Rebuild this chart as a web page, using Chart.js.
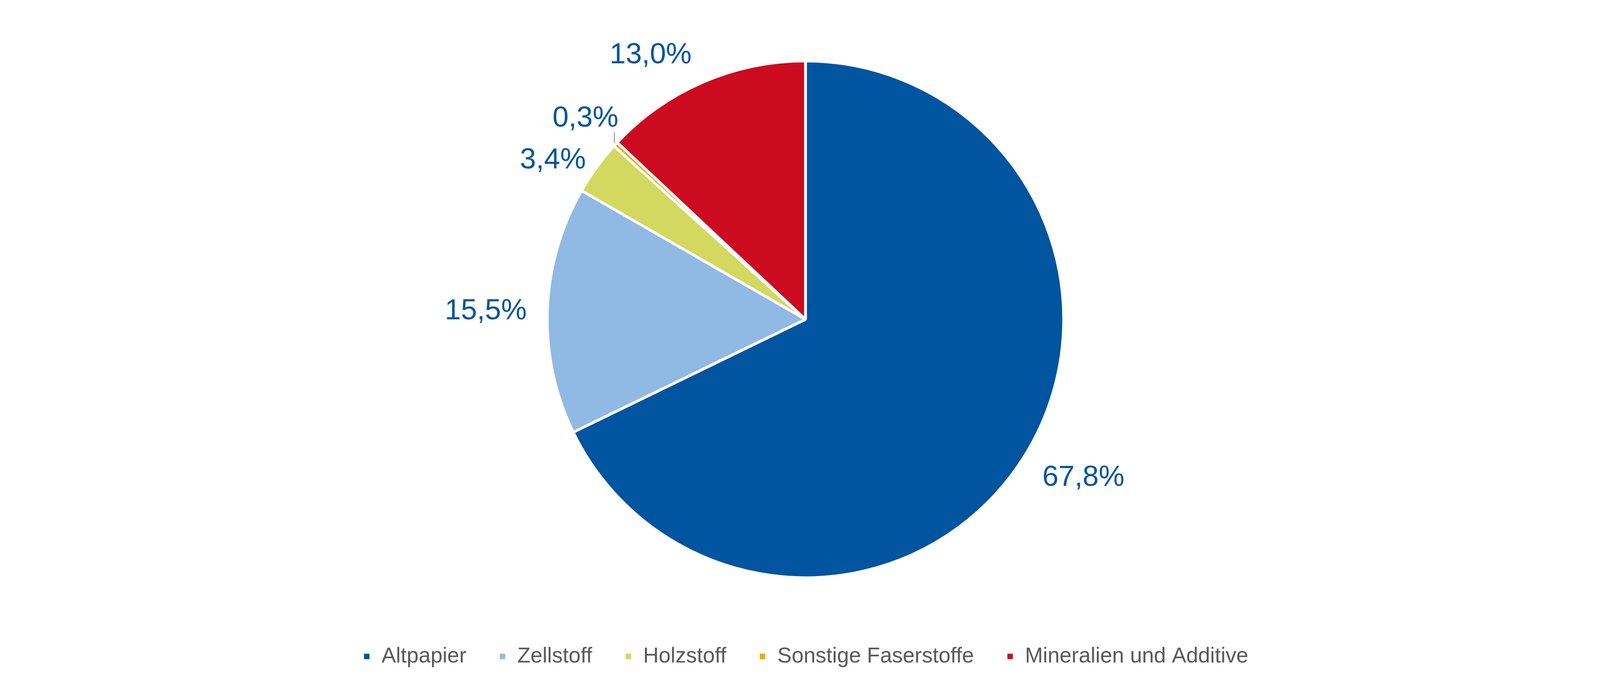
<!DOCTYPE html>
<html>
<head>
<meta charset="utf-8">
<script src="https://cdn.jsdelivr.net/npm/chart.js@4.4.1/dist/chart.umd.min.js"></script>
<style>
  html, body { margin: 0; padding: 0; background: #ffffff; overflow: hidden; }
  canvas { display: block; }
</style>
</head>
<body>
<canvas id="c" width="4124" height="1750"></canvas>
<script>
// ---- data ----
const categories = ["Altpapier", "Zellstoff", "Holzstoff", "Sonstige Faserstoffe", "Mineralien und Additive"];
const shares = [67.8, 15.5, 3.4, 0.3, 13.0];
const sliceColors = ["#0054A0", "#90B9E3", "#D2D95E", "#F5A800", "#CC0A20"];

// ---- label placement tweaks (pixels, per slice) ----
const labelPad = [51, 52, 21, 25, 56];
const labelShift = [-39, -2, -46, 0, -93];
const leaderFor = [false, false, false, true, false];

const fmt = v => v.toFixed(1).replace('.', ',') + '%';

const legendHeightPlugin = {
  id: 'legendHeight',
  beforeInit(chart) {
    const origFit = chart.legend.fit;
    chart.legend.fit = function () {
      origFit.call(this);
      this.height = 180;
    };
  }
};

const labelPlugin = {
  id: 'outLabels',
  afterDatasetsDraw(chart) {
    const ctx = chart.ctx;
    const meta = chart.getDatasetMeta(0);
    const fs = 74;
    ctx.save();
    ctx.font = fs + 'px "Liberation Sans", Arial, sans-serif';
    ctx.fillStyle = '#0054A0';
    ctx.textAlign = 'center';
    ctx.textBaseline = 'alphabetic';
    const capH = 0.716 * fs;
    meta.data.forEach((arc, i) => {
      const p = arc.getProps(['x', 'y', 'startAngle', 'endAngle', 'outerRadius'], true);
      const a = (p.startAngle + p.endAngle) / 2;
      const ux = Math.cos(a), uy = Math.sin(a);
      const tx = -Math.sin(a), ty = Math.cos(a);
      const text = fmt(shares[i]);
      const w = ctx.measureText(text).width;
      const ext = Math.abs(ux) * w / 2 + Math.abs(uy) * capH / 2;
      const d = p.outerRadius + labelPad[i] + ext;
      const cx = p.x + d * ux + labelShift[i] * tx;
      const cy = p.y + d * uy + labelShift[i] * ty;
      ctx.fillText(text, cx, cy + capH / 2);
      if (leaderFor[i]) {
        const ex = p.x + p.outerRadius * ux;
        const ey = p.y + p.outerRadius * uy;
        ctx.save();
        ctx.strokeStyle = '#A6A6A6';
        ctx.lineWidth = 3;
        ctx.beginPath();
        ctx.moveTo(ex - 3, ey - 3);
        ctx.lineTo(ex - 3, cy + capH / 2 + 14);
        ctx.stroke();
        ctx.restore();
      }
    });
    ctx.restore();
  }
};

new Chart(document.getElementById('c'), {
  type: 'pie',
  data: {
    labels: categories,
    datasets: [{
      data: shares,
      backgroundColor: sliceColors,
      borderColor: '#ffffff',
      borderWidth: 7,
      radius: 661
    }]
  },
  options: {
    responsive: false,
    animation: false,
    devicePixelRatio: 1,
    layout: { padding: { top: 64, bottom: 0, left: 0, right: 0 } },
    plugins: {
      tooltip: { enabled: false },
      legend: {
        display: true,
        position: 'bottom',
        labels: {
          boxWidth: 21,
          boxHeight: 21,
          padding: 82,
          color: '#595959',
          font: { family: '"Liberation Sans", Arial, sans-serif', size: 55 }
        }
      }
    }
  },
  plugins: [legendHeightPlugin, labelPlugin]
});
</script>
</body>
</html>
